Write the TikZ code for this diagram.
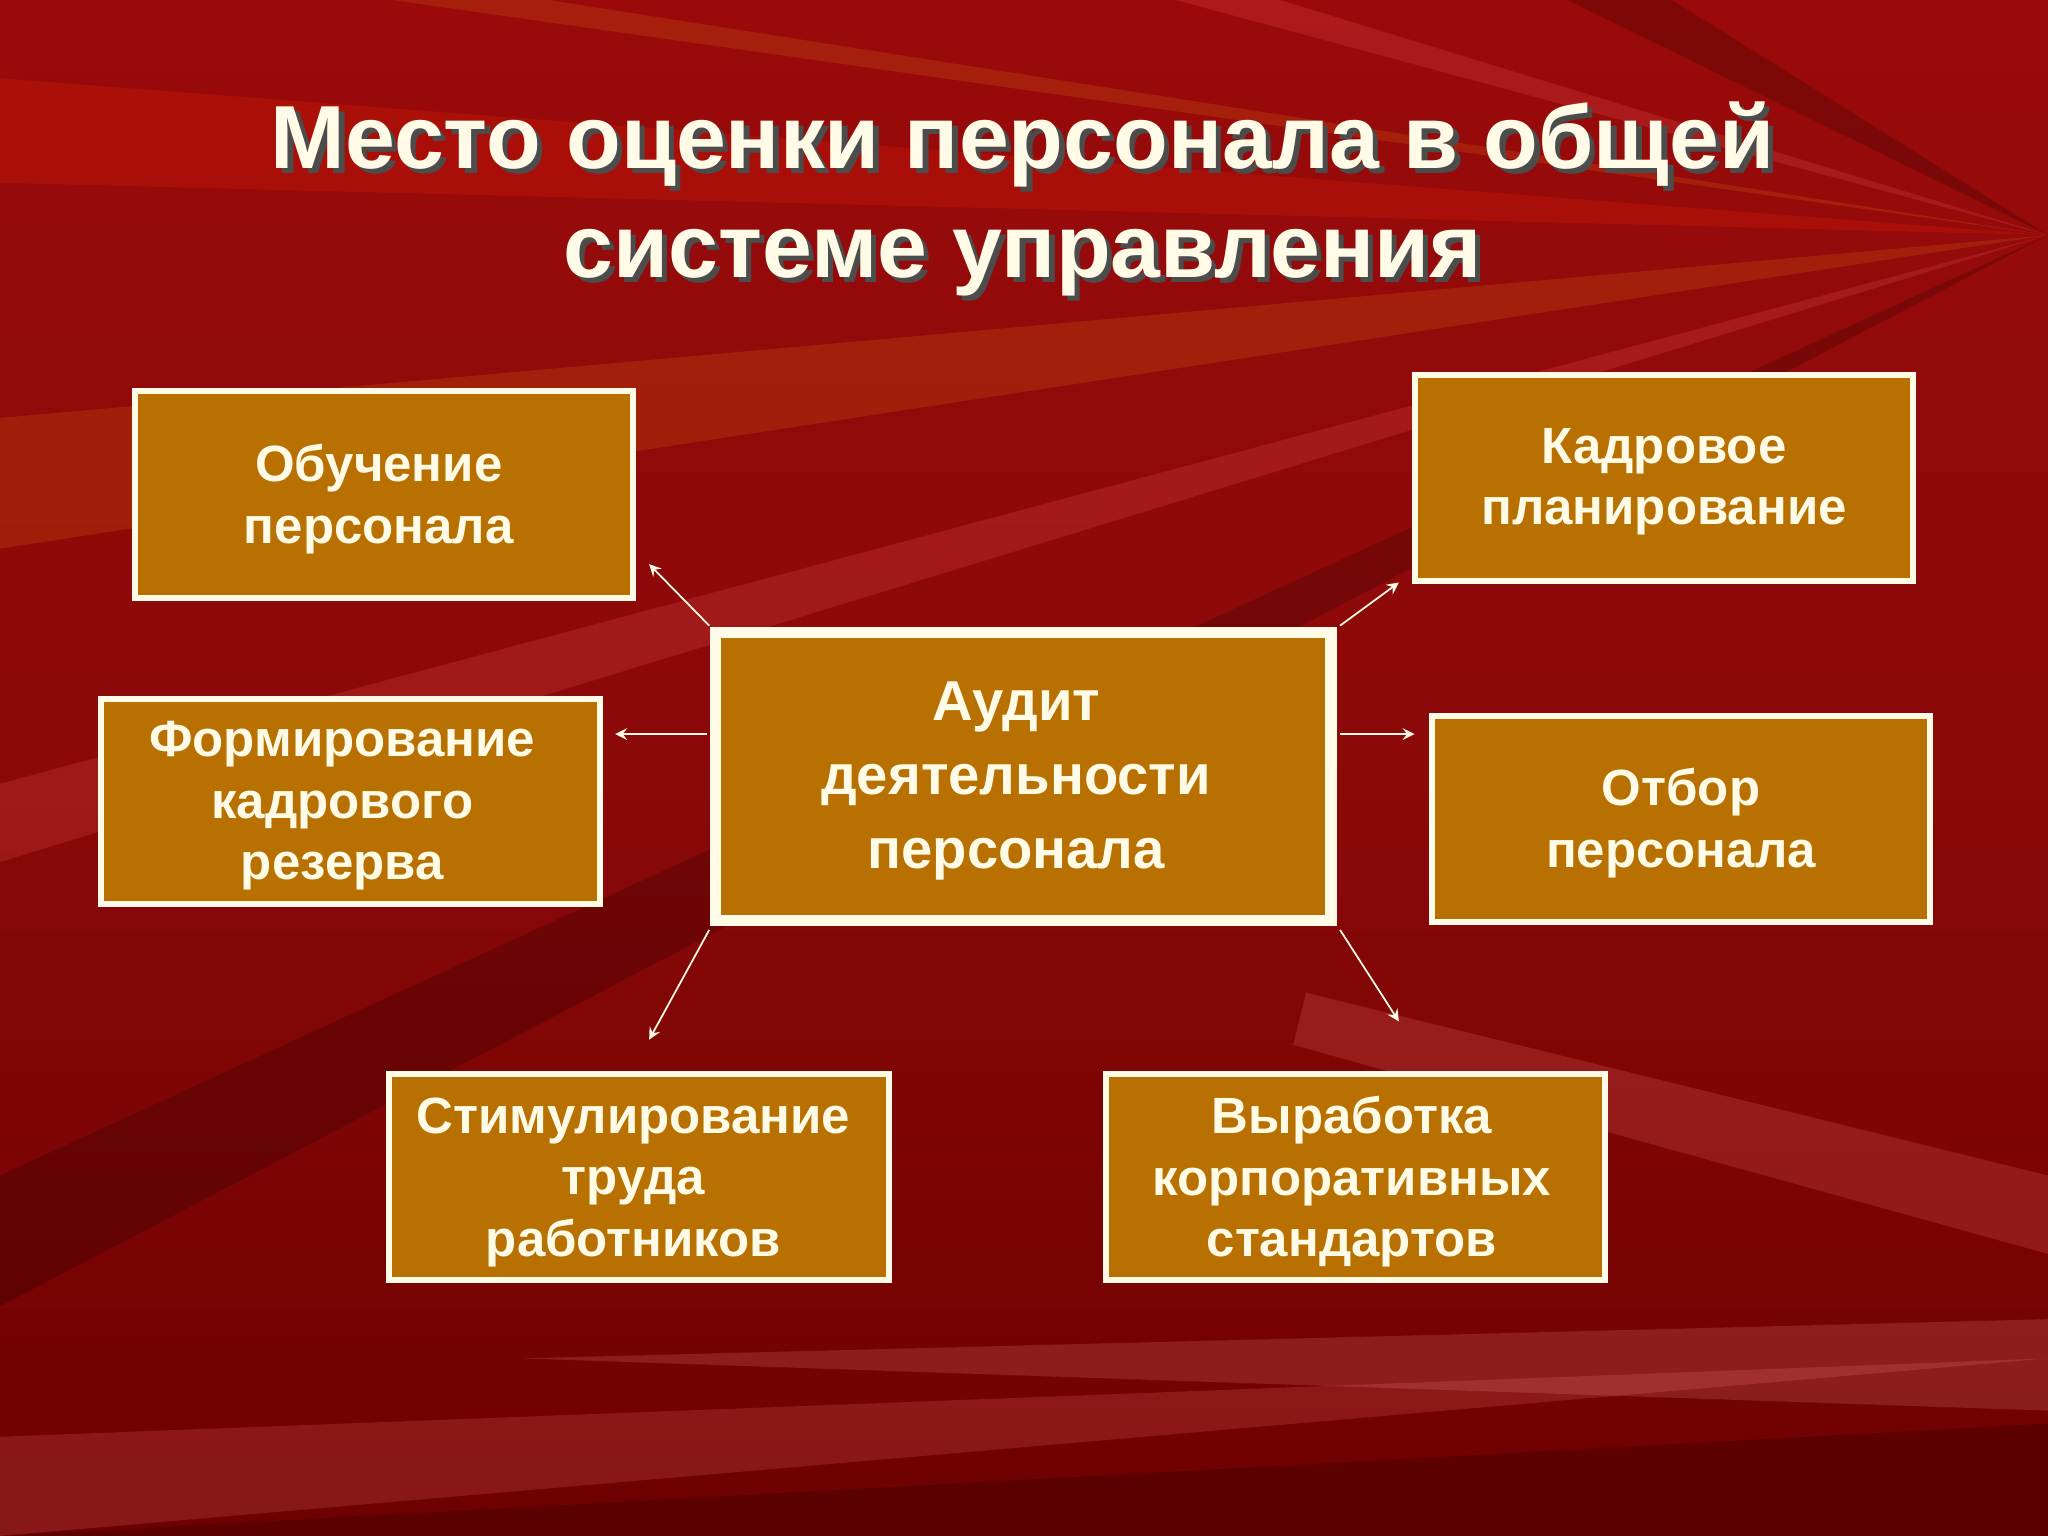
\documentclass[tikz,border=0pt]{standalone}
\usepackage{fontspec}
\setmainfont{Liberation Sans}
\usetikzlibrary{shadings}
\definecolor{boxfill}{HTML}{B87000}
\definecolor{cream}{HTML}{FFFBE6}
\definecolor{bgred}{HTML}{9A0A0A}
\definecolor{bgdark}{HTML}{6E0000}
\begin{document}
\begin{tikzpicture}[x=0.013061cm,y=-0.013061cm,
  box/.style={draw=cream,line width=1.7pt,fill=boxfill,inner sep=0pt},
  lbl/.style={text=cream,font=\bfseries\fontsize{14.5}{17.5}\selectfont,align=center},
  arr/.style={draw=cream,line width=0.5pt,-stealth}]
\useasboundingbox (0,0) rectangle (1568,1176);
\shade[top color=bgred,bottom color=bgdark,middle color=bgred!90!black] (0,0) rectangle (1568,1176);
% rays
\begin{scope}[opacity=0.18]
\fill[red!70!orange] (1568,180) -- (0,60) -- (0,140) -- cycle;
\fill[orange!70!brown] (1568,180) -- (0,320) -- (0,420) -- cycle;
\fill[red!60] (1568,180) -- (0,600) -- (0,660) -- cycle;
\fill[black] (1568,180) -- (0,900) -- (0,1000) -- cycle;
\fill[orange!60!brown] (1568,180) -- (300,0) -- (420,0) -- cycle;
\fill[red!60] (1568,180) -- (900,0) -- (980,0) -- cycle;
\fill[black] (1568,180) -- (1200,0) -- (1280,0) -- cycle;
\fill[red!50] (1568,1040) -- (0,1100) -- (0,1176) -- cycle;
\fill[red!50] (1000,760) -- (1568,900) -- (1568,960) -- (990,800) -- cycle;
\fill[red!40] (1568,1010) -- (400,1040) -- (1568,1080) -- cycle;
\fill[black] (1568,1090) -- (0,1176) -- (1568,1176) -- cycle;
\end{scope}
% title
\node[text=black!70,font=\bfseries\fontsize{25.5}{31}\selectfont,align=center] at (787,156) {Место оценки персонала в общей\\системе управления};
\node[text=cream,font=\bfseries\fontsize{25.5}{31}\selectfont,align=center] (title) at (783,152) {Место оценки персонала в общей\\системе управления};
% boxes
\draw[box] (103,299) rectangle (485,458); \node[lbl] (ob) at (290,382) {Обучение\\персонала};
\draw[box] (1083,287) rectangle (1465,445); \node[lbl] (kp) at (1274,369) {Кадровое\\планирование};
\draw[box] (77,535) rectangle (459,692); \node[lbl] (fk) at (262,617) {Формирование\\кадрового\\резерва};
\draw[box] (1096,548) rectangle (1478,706); \node[lbl] (ot) at (1287,630) {Отбор\\персонала};
\draw[box] (298,822) rectangle (681,980); \node[lbl] (st) at (485,905) {Стимулирование\\труда\\работников};
\draw[box] (847,822) rectangle (1229,980); \node[lbl] (vk) at (1035,905) {Выработка\\корпоративных\\стандартов};
\draw[box,line width=3.2pt] (548,484) rectangle (1019,705);
\node[lbl,font=\bfseries\fontsize{16}{21}\selectfont] (au) at (778,598) {Аудит\\деятельности\\персонала};
% arrows
\coordinate (c1) at (543,479); \coordinate (e1) at (497,432);
\coordinate (c2) at (541,562); \coordinate (e2) at (471,562);
\coordinate (c3) at (543,712); \coordinate (e3) at (497,796);
\coordinate (c4) at (1026,479); \coordinate (e4) at (1071,446);
\coordinate (c5) at (1026,562); \coordinate (e5) at (1083,562);
\coordinate (c6) at (1026,712); \coordinate (e6) at (1071,782);
\draw[arr] (c1)--(e1); \draw[arr] (c2)--(e2); \draw[arr] (c3)--(e3);
\draw[arr] (c4)--(e4); \draw[arr] (c5)--(e5); \draw[arr] (c6)--(e6);
\end{tikzpicture}
\end{document}
